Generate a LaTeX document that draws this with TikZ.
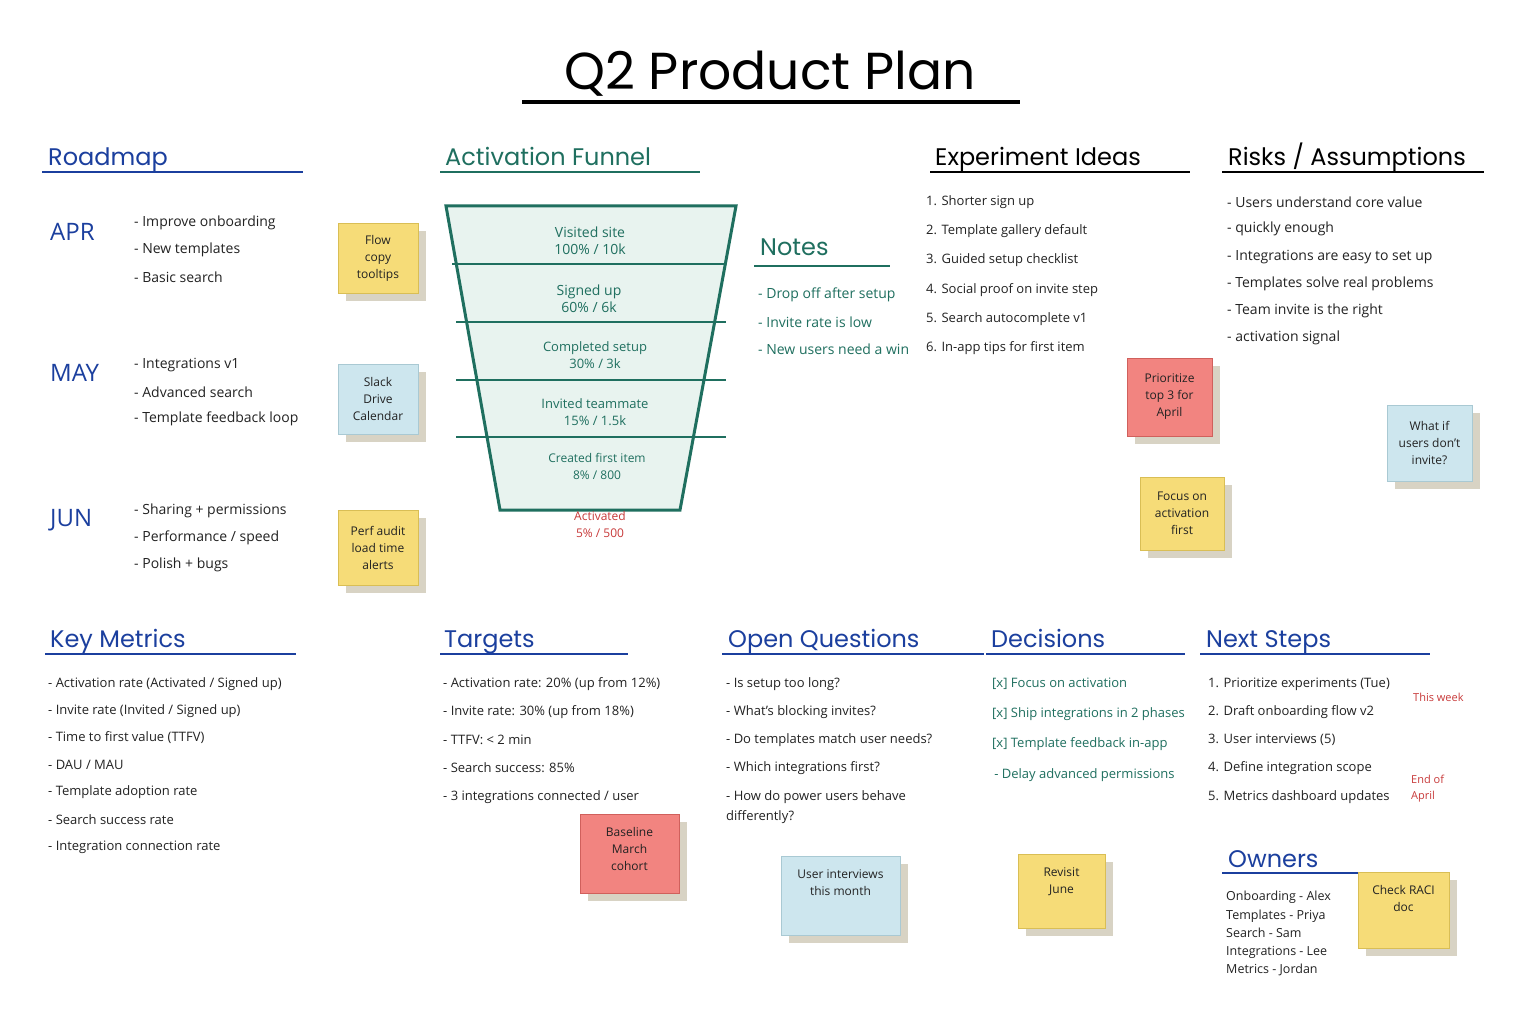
\documentclass[tikz,border=0pt]{standalone}
\usepackage{fontspec}
\setmainfont{Open Sans}
\newfontfamily\headf{Poppins}
\definecolor{hblue}{HTML}{1B3F9E}
\definecolor{hteal}{HTML}{1F6F5F}
\definecolor{fill}{HTML}{E8F3EF}
\definecolor{sy}{HTML}{F6DC78}
\definecolor{syb}{HTML}{D9BE55}
\definecolor{sb}{HTML}{CDE6EE}
\definecolor{sbb}{HTML}{A9C9D3}
\definecolor{sr}{HTML}{F28480}
\definecolor{srb}{HTML}{D0605C}
\definecolor{shad}{HTML}{D8D3C4}
\definecolor{txt}{HTML}{222222}
\definecolor{rtxt}{HTML}{C83A3A}
\tikzset{
 hd/.style={anchor=base west,font=\headf\fontsize{24}{28}\selectfont,inner sep=0},
 item/.style={anchor=west,font=\fontsize{14}{16}\selectfont,text=txt,inner sep=0},
 sitem/.style={anchor=west,font=\fontsize{13}{15}\selectfont,text=txt,inner sep=0},
 mon/.style={anchor=west,font=\fontsize{24}{26}\selectfont,text=hblue,inner sep=0},
 ul/.style={line width=2.5pt},
 ftx/.style={font=\fontsize{14}{17}\selectfont,text=hteal,align=center},
}
\newcommand{\sticky}[7]{% name x1 y1 x2 y2 fill border text
 \fill[shad] (#2+8,#3+8) rectangle (#4+8,#5+8);
 \draw[fill=#6,draw=#7] (#2,#3) rectangle (#4,#5);
 \node[font=\fontsize{12}{17}\selectfont,align=center,text=txt] (#1) at ({(#2+#4)/2},{(#3+#5)/2}) {\stxt};}
\newcommand{\stickytop}[7]{% text near top
 \fill[shad] (#2+8,#3+8) rectangle (#4+8,#5+8);
 \draw[fill=#6,draw=#7] (#2,#3) rectangle (#4,#5);
 \node[font=\fontsize{12}{17}\selectfont,align=center,text=txt,anchor=north] (#1) at ({(#2+#4)/2},#3+10) {\stxt};}
\begin{document}
\begin{tikzpicture}[x=1pt,y=-1pt]
\useasboundingbox[fill=white] (0,0) rectangle (1536,1024);
% title
\node[font=\headf\fontsize{52}{56}\selectfont,text=black] (title) at (770,74) {Q2 Product Plan};
\draw[line width=4pt] (522,102) -- (1020,102);
% headers
\node[hd,text=hblue] (hroad) at (48,166) {Roadmap};
\draw[ul,hblue] (42,172) -- (303,172);
\node[hd,text=hteal] (hfun) at (445,166) {Activation Funnel};
\draw[ul,hteal] (440,172) -- (700,172);
\node[hd,text=black] (hexp) at (935,166) {Experiment Ideas};
\draw[ul,black] (930,172) -- (1190,172);
\node[hd,text=black] (hrisk) at (1228,166) {Risks / Assumptions};
\draw[ul,black] (1222,172) -- (1484,172);
\node[hd,text=hteal] (hnotes) at (760,256) {Notes};
\draw[ul,hteal] (754,266) -- (890,266);
\node[hd,text=hblue] (hkm) at (50,647) {Key Metrics};
\draw[ul,hblue] (45,654) -- (296,654);
\node[hd,text=hblue] (htar) at (444,647) {Targets};
\draw[ul,hblue] (440,654) -- (628,654);
\node[hd,text=hblue] (hoq) at (728,647) {Open Questions};
\draw[ul,hblue] (722,654) -- (984,654);
\node[hd,text=hblue] (hdec) at (991,647) {Decisions};
\draw[ul,hblue] (986,654) -- (1185,654);
\node[hd,text=hblue] (hns) at (1206,647) {Next Steps};
\draw[ul,hblue] (1200,654) -- (1430,654);
\node[hd,text=hblue] (how) at (1228,867) {Owners};
\draw[ul,hblue] (1222,873) -- (1358,873);
% roadmap
\node[mon] (apr) at (50,232) {APR};
\node[mon] (may) at (50,373) {MAY};
\node[mon] (jun) at (50,520) {JUN};
\node[item] (r1) at (134,223) {- Improve onboarding};
\node[item] (r2) at (134,250) {- New templates};
\node[item] (r3) at (134,277) {- Basic search};
\node[item] (r4) at (134,365) {- Integrations v1};
\node[item] (r5) at (134,392) {- Advanced search};
\node[item] (r6) at (134,419) {- Template feedback loop};
\node[item] (r7) at (134,511) {- Sharing + permissions};
\node[item] (r8) at (134,538) {- Performance / speed};
\node[item] (r9) at (134,565) {- Polish + bugs};
% stickies
\def\stxt{Flow\\copy\\tooltips}\sticky{s1}{338}{223}{418}{293}{sy}{syb}
\def\stxt{Slack\\Drive\\Calendar}\sticky{s2}{338}{364}{418}{434}{sb}{sbb}
\def\stxt{Perf audit\\load time\\alerts}\sticky{s3}{338}{510}{418}{585}{sy}{syb}
\def\stxt{Prioritize\\top 3 for\\April}\sticky{s4}{1127}{358}{1212}{436}{sr}{srb}
\def\stxt{What if\\users don't\\invite?}\sticky{s5}{1387}{405}{1472}{481}{sb}{sbb}
\def\stxt{Focus on\\activation\\first}\sticky{s6}{1140}{477}{1224}{550}{sy}{syb}
\def\stxt{Baseline\\March\\cohort}\stickytop{s7}{580}{814}{679}{893}{sr}{srb}
\def\stxt{User interviews\\this month}\stickytop{s8}{781}{856}{900}{935}{sb}{sbb}
\def\stxt{Revisit\\June}\stickytop{s9}{1018}{854}{1105}{928}{sy}{syb}
\def\stxt{Check RACI\\doc}\stickytop{s10}{1358}{872}{1449}{948}{sy}{syb}
% funnel
\draw[fill=fill,draw=hteal,line width=3pt] (446,206) -- (736,206) -- (680,510) -- (500,510) -- cycle;
\draw[hteal,line width=2pt] (452,264) -- (724,264);
\draw[hteal,line width=2pt] (456,322) -- (726,322);
\draw[hteal,line width=2pt] (456,380) -- (726,380);
\draw[hteal,line width=2pt] (456,437) -- (726,437);
\node[ftx] (f1) at (590,241) {Visited site\\100\% / 10k};
\node[ftx] (f2) at (589,299) {Signed up\\60\% / 6k};
\node[ftx,font=\fontsize{13}{17}\selectfont] (f3) at (595,355) {Completed setup\\30\% / 3k};
\node[ftx,font=\fontsize{13}{17}\selectfont] (f4) at (595,412) {Invited teammate\\15\% / 1.5k};
\node[ftx,font=\fontsize{12}{17}\selectfont] (f5) at (597,466) {Created first item\\8\% / 800};
\node[ftx,text=rtxt,font=\fontsize{12}{17}\selectfont] (f6) at (600,524) {Activated\\5\% / 500};
% notes
\node[item,text=hteal] (n1) at (758,295) {- Drop off after setup};
\node[item,text=hteal] (n2) at (758,322) {- Invite rate is low};
\node[item,text=hteal] (n3) at (758,349) {- New users need a win};
% experiments
\node[sitem] (e1) at (926,202) {1. Shorter sign up};
\node[sitem] (e2) at (926,231) {2. Template gallery default};
\node[sitem] (e3) at (926,260) {3. Guided setup checklist};
\node[sitem] (e4) at (926,290) {4. Social proof on invite step};
\node[sitem] (e5) at (926,319) {5. Search autocomplete v1};
\node[sitem] (e6) at (926,348) {6. In-app tips for first item};
% risks
\node[item] (k1) at (1227,202) {- Users understand core value};
\node[item] (k2) at (1227,229) {- quickly enough};
\node[item] (k3) at (1227,257) {- Integrations are easy to set up};
\node[item] (k4) at (1227,284) {- Templates solve real problems};
\node[item] (k5) at (1227,311) {- Team invite is the right};
\node[item] (k6) at (1227,338) {- activation signal};
% key metrics
\node[sitem] (m1) at (48,684) {- Activation rate (Activated / Signed up)};
\node[sitem] (m2) at (48,711) {- Invite rate (Invited / Signed up)};
\node[sitem] (m3) at (48,738) {- Time to first value (TTFV)};
\node[sitem] (m4) at (48,765) {- DAU / MAU};
\node[sitem] (m5) at (48,792) {- Template adoption rate};
\node[sitem] (m6) at (48,820) {- Search success rate};
\node[sitem] (m7) at (48,847) {- Integration connection rate};
% targets
\node[sitem] (t1) at (443,684) {- Activation rate: 20\% (up from 12\%)};
\node[sitem] (t2) at (443,712) {- Invite rate: 30\% (up from 18\%)};
\node[sitem] (t3) at (443,740) {- TTFV: < 2 min};
\node[sitem] (t4) at (443,768) {- Search success: 85\%};
\node[sitem] (t5) at (443,797) {- 3 integrations connected / user};
% open questions
\node[sitem] (q1) at (726,684) {- Is setup too long?};
\node[sitem] (q2) at (726,712) {- What's blocking invites?};
\node[sitem] (q3) at (726,740) {- Do templates match user needs?};
\node[sitem] (q4) at (726,768) {- Which integrations first?};
\node[sitem] (q5) at (726,797) {- How do power users behave};
\node[sitem] (q6) at (726,817) {differently?};
% decisions
\node[sitem,text=hteal] (d1) at (992,684) {[x] Focus on activation};
\node[sitem,text=hteal] (d2) at (992,714) {[x] Ship integrations in 2 phases};
\node[sitem,text=hteal] (d3) at (992,744) {[x] Template feedback in-app};
\node[sitem,text=hteal] (d4) at (992,775) {\,- Delay advanced permissions};
% next steps
\node[sitem] (x1) at (1208,684) {1. Prioritize experiments (Tue)};
\node[sitem] (x2) at (1208,712) {2. Draft onboarding flow v2};
\node[sitem] (x3) at (1208,740) {3. User interviews (5)};
\node[sitem] (x4) at (1208,768) {4. Define integration scope};
\node[sitem] (x5) at (1208,797) {5. Metrics dashboard updates};
\node[sitem,text=rtxt,font=\fontsize{11}{13}\selectfont] (w1) at (1413,697) {This week};
\node[sitem,text=rtxt,font=\fontsize{11}{16}\selectfont,align=left] (w2) at (1411,789) {End of\\April};
% owners
\node[sitem,font=\fontsize{12.5}{18.3}\selectfont,align=left,anchor=north west] (ow) at (1226,891) {Onboarding - Alex\\Templates - Priya\\Search - Sam\\Integrations - Lee\\Metrics - Jordan};
\end{tikzpicture}
\end{document}
